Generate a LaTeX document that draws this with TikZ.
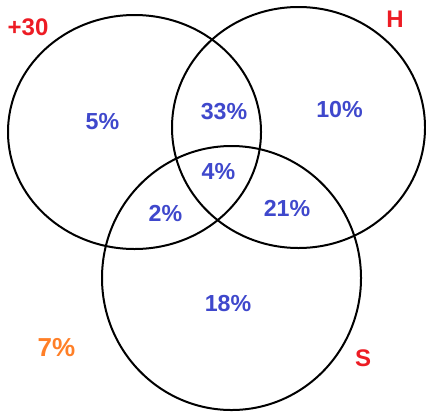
\documentclass[tikz,border=0pt]{standalone}
\usepackage{fontspec}
\setmainfont{Liberation Sans}
\definecolor{pctblue}{HTML}{3F48CC}
\definecolor{setred}{HTML}{ED1C24}
\definecolor{outorange}{HTML}{FF7F27}

\begin{document}
\begin{tikzpicture}[x=0.5pt, y=-0.5pt, line width=1pt,
    pct/.style={text=pctblue, font=\bfseries\fontsize{11.6}{13}\selectfont},
    setname/.style={text=setred, font=\bfseries\fontsize{12}{14}\selectfont}]
    \useasboundingbox (0,0) rectangle (426,412);
    % the three sets
    \draw (134.5,132) ellipse [x radius=63.25pt, y radius=58.5pt];
    \draw (298.5,127.5) ellipse [x radius=63.25pt, y radius=60.25pt];
    \draw (231.5,278) ellipse [x radius=64.75pt, y radius=66pt];
    % set names
    \node[setname] (n30) at (28,27) {+30};
    \node[setname] (nH) at (395,19) {H};
    \node[setname] (nS) at (363,358.5) {S};
    % shares
    \node[pct] (p5) at (102.5,121.5) {5\%};
    \node[pct] (p33) at (224,111.5) {33\%};
    \node[pct] (p10) at (339.5,109.5) {10\%};
    \node[pct] (p4) at (218.5,171.5) {4\%};
    \node[pct] (p2) at (165.5,213) {2\%};
    \node[pct] (p21) at (287,208) {21\%};
    \node[pct] (p18) at (228,304) {18\%};
    \node[text=outorange, font=\bfseries\fontsize{13}{15}\selectfont] (p7) at (56.5,347.5) {7\%};
\end{tikzpicture}
\end{document}
